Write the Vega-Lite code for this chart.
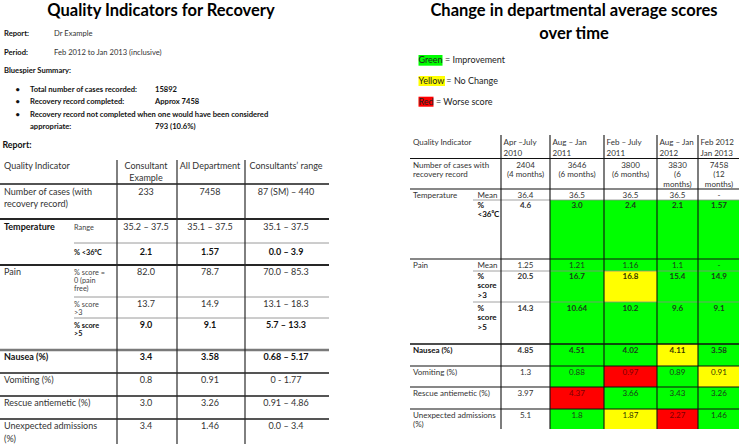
{
  "$schema": "https://vega.github.io/schema/vega-lite/v6.json",
  "width": 740,
  "height": 444,
  "autosize": {"type": "none"},
  "padding": 0,
  "background": "#ffffff",
  "config": {"view": {"stroke": null}, "font": "Lato", "text": {"lineBreak": "\n", "font": "Lato", "color": "#222222"}},
  "datasets": {
    "left": [
      {"part": "title", "em": true, "c": 9, "r": 0, "t": "Quality Indicators for Recovery"},
      {"part": "info", "em": true, "c": 1, "r": 1, "t": "Report:"},
      {"part": "info", "em": false, "c": 4, "r": 1, "t": "Dr Example"},
      {"part": "info", "em": true, "c": 1, "r": 2, "t": "Period:"},
      {"part": "info", "em": false, "c": 4, "r": 2, "t": "Feb 2012 to Jan 2013 (inclusive)"},
      {"part": "info", "em": true, "c": 1, "r": 3, "t": "Bluespier Summary:"},
      {"part": "info", "em": true, "c": 2, "r": 4, "t": "•"},
      {"part": "info", "em": true, "c": 3, "r": 4, "t": "Total number of cases recorded:"},
      {"part": "info", "em": true, "c": 8, "r": 4, "t": "15892"},
      {"part": "info", "em": true, "c": 2, "r": 5, "t": "•"},
      {"part": "info", "em": true, "c": 3, "r": 5, "t": "Recovery record completed:"},
      {"part": "info", "em": true, "c": 8, "r": 5, "t": "Approx 7458"},
      {"part": "info", "em": true, "c": 2, "r": 6, "t": "•"},
      {"part": "info", "em": true, "c": 3, "r": 6, "t": "Recovery record not completed when one would have been considered"},
      {"part": "info", "em": true, "c": 3, "r": 7, "t": "appropriate:"},
      {"part": "info", "em": true, "c": 8, "r": 7, "t": "793 (10.6%)"},
      {"part": "heading", "em": true, "c": 1, "r": 8, "t": "Report:"},
      {"part": "label", "em": false, "c": 1, "r": 10, "t": "Quality Indicator"},
      {"part": "value", "em": false, "c": 7, "r": 10, "t": "Consultant\nExample"},
      {"part": "value", "em": false, "c": 11, "r": 10, "t": "All Department"},
      {"part": "value", "em": false, "c": 13, "r": 10, "t": "Consultants’ range"},
      {"part": "label", "em": false, "c": 1, "r": 12, "t": "Number of cases (with\nrecovery record)"},
      {"part": "value", "em": false, "c": 7, "r": 12, "t": "233"},
      {"part": "value", "em": false, "c": 11, "r": 12, "t": "7458"},
      {"part": "value", "em": false, "c": 13, "r": 12, "t": "87 (SM) – 440"},
      {"part": "label", "em": true, "c": 1, "r": 14, "t": "Temperature"},
      {"part": "sub", "em": false, "c": 5, "r": 14, "t": "Range"},
      {"part": "value", "em": false, "c": 7, "r": 14, "t": "35.2 – 37.5"},
      {"part": "value", "em": false, "c": 11, "r": 14, "t": "35.1 – 37.5"},
      {"part": "value", "em": false, "c": 13, "r": 14, "t": "35.1 – 37.5"},
      {"part": "sub", "em": true, "c": 5, "r": 16, "t": "% <36⁰C"},
      {"part": "value", "em": true, "c": 7, "r": 16, "t": "2.1"},
      {"part": "value", "em": true, "c": 11, "r": 16, "t": "1.57"},
      {"part": "value", "em": true, "c": 13, "r": 16, "t": "0.0 – 3.9"},
      {"part": "label", "em": false, "c": 1, "r": 18, "t": "Pain"},
      {"part": "sub", "em": false, "c": 5, "r": 18, "t": "% score =\n0 (pain\nfree)"},
      {"part": "value", "em": false, "c": 7, "r": 18, "t": "82.0"},
      {"part": "value", "em": false, "c": 11, "r": 18, "t": "78.7"},
      {"part": "value", "em": false, "c": 13, "r": 18, "t": "70.0 – 85.3"},
      {"part": "sub", "em": false, "c": 5, "r": 20, "t": "% score\n>3"},
      {"part": "value", "em": false, "c": 7, "r": 20, "t": "13.7"},
      {"part": "value", "em": false, "c": 11, "r": 20, "t": "14.9"},
      {"part": "value", "em": false, "c": 13, "r": 20, "t": "13.1 – 18.3"},
      {"part": "sub", "em": true, "c": 5, "r": 22, "t": "% score\n>5"},
      {"part": "value", "em": true, "c": 7, "r": 22, "t": "9.0"},
      {"part": "value", "em": true, "c": 11, "r": 22, "t": "9.1"},
      {"part": "value", "em": true, "c": 13, "r": 22, "t": "5.7 – 13.3"},
      {"part": "label", "em": true, "c": 1, "r": 24, "t": "Nausea (%)"},
      {"part": "value", "em": true, "c": 7, "r": 24, "t": "3.4"},
      {"part": "value", "em": true, "c": 11, "r": 24, "t": "3.58"},
      {"part": "value", "em": true, "c": 13, "r": 24, "t": "0.68 – 5.17"},
      {"part": "label", "em": false, "c": 1, "r": 26, "t": "Vomiting (%)"},
      {"part": "value", "em": false, "c": 7, "r": 26, "t": "0.8"},
      {"part": "value", "em": false, "c": 11, "r": 26, "t": "0.91"},
      {"part": "value", "em": false, "c": 13, "r": 26, "t": "0 - 1.77"},
      {"part": "label", "em": false, "c": 1, "r": 28, "t": "Rescue antiemetic (%)"},
      {"part": "value", "em": false, "c": 7, "r": 28, "t": "3.0"},
      {"part": "value", "em": false, "c": 11, "r": 28, "t": "3.26"},
      {"part": "value", "em": false, "c": 13, "r": 28, "t": "0.91 – 4.86"},
      {"part": "label", "em": false, "c": 1, "r": 30, "t": "Unexpected admissions\n(%)"},
      {"part": "value", "em": false, "c": 7, "r": 30, "t": "3.4"},
      {"part": "value", "em": false, "c": 11, "r": 30, "t": "1.46"},
      {"part": "value", "em": false, "c": 13, "r": 30, "t": "0.0 – 3.4"}
    ],
    "leftRules": [
      {"k": "head", "c": 0, "c2": 14, "r": 11, "r2": 11},
      {"k": "major", "c": 0, "c2": 14, "r": 13, "r2": 13},
      {"k": "minor", "c": 5, "c2": 14, "r": 15, "r2": 15},
      {"k": "major", "c": 0, "c2": 14, "r": 17, "r2": 17},
      {"k": "minor", "c": 5, "c2": 14, "r": 19, "r2": 19},
      {"k": "minor", "c": 5, "c2": 14, "r": 21, "r2": 21},
      {"k": "section", "c": 0, "c2": 14, "r": 23, "r2": 23},
      {"k": "row", "c": 0, "c2": 14, "r": 25, "r2": 25},
      {"k": "row", "c": 0, "c2": 14, "r": 27, "r2": 27},
      {"k": "row", "c": 0, "c2": 14, "r": 29, "r2": 29},
      {"k": "col", "c": 6, "c2": 6, "r": 9, "r2": 31},
      {"k": "col", "c": 10, "c2": 10, "r": 9, "r2": 31},
      {"k": "col", "c": 12, "c2": 12, "r": 9, "r2": 31}
    ],
    "right": [
      {"part": "title", "em": true, "c": 11, "r": 0, "t": "Change in departmental average scores\nover time"},
      {"part": "label", "em": false, "c": 1, "r": 11, "t": "Quality Indicator"},
      {"part": "head", "em": false, "c": 8, "r": 11, "t": "Apr –July\n2010"},
      {"part": "head", "em": false, "c": 10, "r": 11, "t": "Aug – Jan\n2011"},
      {"part": "head", "em": false, "c": 12, "r": 11, "t": "Feb – July\n2011"},
      {"part": "head", "em": false, "c": 14, "r": 11, "t": "Aug – Jan\n2012"},
      {"part": "head", "em": false, "c": 16, "r": 11, "t": "Feb 2012\nJan 2013"},
      {"part": "label", "em": false, "c": 1, "r": 13, "t": "Number of cases with\nrecovery record"},
      {"part": "label", "em": false, "c": 1, "r": 15, "t": "Temperature"},
      {"part": "sub", "em": false, "c": 7, "r": 15, "t": "Mean"},
      {"part": "sub", "em": true, "c": 7, "r": 17, "t": "%\n<36⁰C"},
      {"part": "label", "em": false, "c": 1, "r": 19, "t": "Pain"},
      {"part": "sub", "em": false, "c": 7, "r": 19, "t": "Mean"},
      {"part": "sub", "em": true, "c": 7, "r": 21, "t": "%\nscore\n>3"},
      {"part": "sub", "em": true, "c": 7, "r": 23, "t": "%\nscore\n>5"},
      {"part": "label", "em": true, "c": 1, "r": 25, "t": "Nausea (%)"},
      {"part": "label", "em": false, "c": 1, "r": 27, "t": "Vomiting (%)"},
      {"part": "label", "em": false, "c": 1, "r": 29, "t": "Rescue antiemetic (%)"},
      {"part": "label", "em": false, "c": 1, "r": 31, "t": "Unexpected admissions\n(%)"}
    ],
    "key": [
      {"s": "Improvement", "t": "Green = Improvement", "c": 2, "r": 2, "c0": 2, "c1": 4, "r0": 1, "r1": 3},
      {"s": "No change", "t": "Yellow = No Change", "c": 2, "r": 5, "c0": 2, "c1": 5, "r0": 4, "r1": 6},
      {"s": "Worse", "t": "Red = Worse score", "c": 2, "r": 8, "c0": 2, "c1": 3, "r0": 7, "r1": 9}
    ],
    "cells": [
      {"ind": "Number of cases", "per": "Apr–July 2010", "v": "2404\n(4 months)", "s": "none", "em": false, "c": 9, "r": 13},
      {"ind": "Number of cases", "per": "Aug–Jan 2011", "v": "3646\n(6 months)", "s": "none", "em": false, "c": 11, "r": 13},
      {"ind": "Number of cases", "per": "Feb–July 2011", "v": "3800\n(6 months)", "s": "none", "em": false, "c": 13, "r": 13},
      {"ind": "Number of cases", "per": "Aug–Jan 2012", "v": "3830\n(6\nmonths)", "s": "none", "em": false, "c": 15, "r": 13},
      {"ind": "Number of cases", "per": "Feb 2012–Jan 2013", "v": "7458\n(12\nmonths)", "s": "none", "em": false, "c": 17, "r": 13},
      {"ind": "Temperature mean", "per": "Apr–July 2010", "v": "36.4", "s": "none", "em": false, "c": 9, "r": 15},
      {"ind": "Temperature mean", "per": "Aug–Jan 2011", "v": "36.5", "s": "none", "em": false, "c": 11, "r": 15},
      {"ind": "Temperature mean", "per": "Feb–July 2011", "v": "36.5", "s": "none", "em": false, "c": 13, "r": 15},
      {"ind": "Temperature mean", "per": "Aug–Jan 2012", "v": "36.5", "s": "none", "em": false, "c": 15, "r": 15},
      {"ind": "Temperature mean", "per": "Feb 2012–Jan 2013", "v": "-", "s": "none", "em": false, "c": 17, "r": 15},
      {"ind": "Temperature % <36", "per": "Apr–July 2010", "v": "4.6", "s": "none", "em": true, "c": 9, "r": 17},
      {"ind": "Temperature % <36", "per": "Aug–Jan 2011", "v": "3.0", "s": "Improvement", "em": true, "c": 11, "r": 17, "c0": 10, "c1": 12, "r0": 16, "r1": 18},
      {"ind": "Temperature % <36", "per": "Feb–July 2011", "v": "2.4", "s": "Improvement", "em": true, "c": 13, "r": 17, "c0": 12, "c1": 14, "r0": 16, "r1": 18},
      {"ind": "Temperature % <36", "per": "Aug–Jan 2012", "v": "2.1", "s": "Improvement", "em": true, "c": 15, "r": 17, "c0": 14, "c1": 16, "r0": 16, "r1": 18},
      {"ind": "Temperature % <36", "per": "Feb 2012–Jan 2013", "v": "1.57", "s": "Improvement", "em": true, "c": 17, "r": 17, "c0": 16, "c1": 18, "r0": 16, "r1": 18},
      {"ind": "Pain mean", "per": "Apr–July 2010", "v": "1.25", "s": "none", "em": false, "c": 9, "r": 19},
      {"ind": "Pain mean", "per": "Aug–Jan 2011", "v": "1.21", "s": "Improvement", "em": false, "c": 11, "r": 19, "c0": 10, "c1": 12, "r0": 18, "r1": 20},
      {"ind": "Pain mean", "per": "Feb–July 2011", "v": "1.16", "s": "Improvement", "em": false, "c": 13, "r": 19, "c0": 12, "c1": 14, "r0": 18, "r1": 20},
      {"ind": "Pain mean", "per": "Aug–Jan 2012", "v": "1.1", "s": "Improvement", "em": false, "c": 15, "r": 19, "c0": 14, "c1": 16, "r0": 18, "r1": 20},
      {"ind": "Pain mean", "per": "Feb 2012–Jan 2013", "v": "-", "s": "Improvement", "em": false, "c": 17, "r": 19, "c0": 16, "c1": 18, "r0": 18, "r1": 20},
      {"ind": "Pain % score >3", "per": "Apr–July 2010", "v": "20.5", "s": "none", "em": true, "c": 9, "r": 21},
      {"ind": "Pain % score >3", "per": "Aug–Jan 2011", "v": "16.7", "s": "Improvement", "em": true, "c": 11, "r": 21, "c0": 10, "c1": 12, "r0": 20, "r1": 22},
      {"ind": "Pain % score >3", "per": "Feb–July 2011", "v": "16.8", "s": "No change", "em": true, "c": 13, "r": 21, "c0": 12, "c1": 14, "r0": 20, "r1": 22},
      {"ind": "Pain % score >3", "per": "Aug–Jan 2012", "v": "15.4", "s": "Improvement", "em": true, "c": 15, "r": 21, "c0": 14, "c1": 16, "r0": 20, "r1": 22},
      {"ind": "Pain % score >3", "per": "Feb 2012–Jan 2013", "v": "14.9", "s": "Improvement", "em": true, "c": 17, "r": 21, "c0": 16, "c1": 18, "r0": 20, "r1": 22},
      {"ind": "Pain % score >5", "per": "Apr–July 2010", "v": "14.3", "s": "none", "em": true, "c": 9, "r": 23},
      {"ind": "Pain % score >5", "per": "Aug–Jan 2011", "v": "10.64", "s": "Improvement", "em": true, "c": 11, "r": 23, "c0": 10, "c1": 12, "r0": 22, "r1": 24},
      {"ind": "Pain % score >5", "per": "Feb–July 2011", "v": "10.2", "s": "Improvement", "em": true, "c": 13, "r": 23, "c0": 12, "c1": 14, "r0": 22, "r1": 24},
      {"ind": "Pain % score >5", "per": "Aug–Jan 2012", "v": "9.6", "s": "Improvement", "em": true, "c": 15, "r": 23, "c0": 14, "c1": 16, "r0": 22, "r1": 24},
      {"ind": "Pain % score >5", "per": "Feb 2012–Jan 2013", "v": "9.1", "s": "Improvement", "em": true, "c": 17, "r": 23, "c0": 16, "c1": 18, "r0": 22, "r1": 24},
      {"ind": "Nausea (%)", "per": "Apr–July 2010", "v": "4.85", "s": "none", "em": true, "c": 9, "r": 25},
      {"ind": "Nausea (%)", "per": "Aug–Jan 2011", "v": "4.51", "s": "Improvement", "em": true, "c": 11, "r": 25, "c0": 10, "c1": 12, "r0": 24, "r1": 26},
      {"ind": "Nausea (%)", "per": "Feb–July 2011", "v": "4.02", "s": "Improvement", "em": true, "c": 13, "r": 25, "c0": 12, "c1": 14, "r0": 24, "r1": 26},
      {"ind": "Nausea (%)", "per": "Aug–Jan 2012", "v": "4.11", "s": "No change", "em": true, "c": 15, "r": 25, "c0": 14, "c1": 16, "r0": 24, "r1": 26},
      {"ind": "Nausea (%)", "per": "Feb 2012–Jan 2013", "v": "3.58", "s": "Improvement", "em": true, "c": 17, "r": 25, "c0": 16, "c1": 18, "r0": 24, "r1": 26},
      {"ind": "Vomiting (%)", "per": "Apr–July 2010", "v": "1.3", "s": "none", "em": false, "c": 9, "r": 27},
      {"ind": "Vomiting (%)", "per": "Aug–Jan 2011", "v": "0.88", "s": "Improvement", "em": false, "c": 11, "r": 27, "c0": 10, "c1": 12, "r0": 26, "r1": 28},
      {"ind": "Vomiting (%)", "per": "Feb–July 2011", "v": "0.97", "s": "Worse", "em": false, "c": 13, "r": 27, "c0": 12, "c1": 14, "r0": 26, "r1": 28},
      {"ind": "Vomiting (%)", "per": "Aug–Jan 2012", "v": "0.89", "s": "Improvement", "em": false, "c": 15, "r": 27, "c0": 14, "c1": 16, "r0": 26, "r1": 28},
      {"ind": "Vomiting (%)", "per": "Feb 2012–Jan 2013", "v": "0.91", "s": "No change", "em": false, "c": 17, "r": 27, "c0": 16, "c1": 18, "r0": 26, "r1": 28},
      {"ind": "Rescue antiemetic (%)", "per": "Apr–July 2010", "v": "3.97", "s": "none", "em": false, "c": 9, "r": 29},
      {"ind": "Rescue antiemetic (%)", "per": "Aug–Jan 2011", "v": "4.37", "s": "Worse", "em": false, "c": 11, "r": 29, "c0": 10, "c1": 12, "r0": 28, "r1": 30},
      {"ind": "Rescue antiemetic (%)", "per": "Feb–July 2011", "v": "3.66", "s": "Improvement", "em": false, "c": 13, "r": 29, "c0": 12, "c1": 14, "r0": 28, "r1": 30},
      {"ind": "Rescue antiemetic (%)", "per": "Aug–Jan 2012", "v": "3.43", "s": "Improvement", "em": false, "c": 15, "r": 29, "c0": 14, "c1": 16, "r0": 28, "r1": 30},
      {"ind": "Rescue antiemetic (%)", "per": "Feb 2012–Jan 2013", "v": "3.26", "s": "Improvement", "em": false, "c": 17, "r": 29, "c0": 16, "c1": 18, "r0": 28, "r1": 30},
      {"ind": "Unexpected admissions (%)", "per": "Apr–July 2010", "v": "5.1", "s": "none", "em": false, "c": 9, "r": 31},
      {"ind": "Unexpected admissions (%)", "per": "Aug–Jan 2011", "v": "1.8", "s": "Improvement", "em": false, "c": 11, "r": 31, "c0": 10, "c1": 12, "r0": 30, "r1": 32},
      {"ind": "Unexpected admissions (%)", "per": "Feb–July 2011", "v": "1.87", "s": "No change", "em": false, "c": 13, "r": 31, "c0": 12, "c1": 14, "r0": 30, "r1": 32},
      {"ind": "Unexpected admissions (%)", "per": "Aug–Jan 2012", "v": "2.27", "s": "Worse", "em": false, "c": 15, "r": 31, "c0": 14, "c1": 16, "r0": 30, "r1": 32},
      {"ind": "Unexpected admissions (%)", "per": "Feb 2012–Jan 2013", "v": "1.46", "s": "Improvement", "em": false, "c": 17, "r": 31, "c0": 16, "c1": 18, "r0": 30, "r1": 32}
    ],
    "rightRules": [
      {"k": "major", "c": 0, "c2": 18, "r": 12, "r2": 12},
      {"k": "major", "c": 0, "c2": 18, "r": 14, "r2": 14},
      {"k": "minor", "c": 6, "c2": 18, "r": 16, "r2": 16},
      {"k": "major", "c": 0, "c2": 18, "r": 18, "r2": 18},
      {"k": "minor", "c": 6, "c2": 18, "r": 20, "r2": 20},
      {"k": "minor", "c": 6, "c2": 18, "r": 22, "r2": 22},
      {"k": "section", "c": 0, "c2": 18, "r": 24, "r2": 24},
      {"k": "major", "c": 0, "c2": 18, "r": 26, "r2": 26},
      {"k": "major", "c": 0, "c2": 18, "r": 28, "r2": 28},
      {"k": "major", "c": 0, "c2": 18, "r": 30, "r2": 30},
      {"k": "col", "c": 8, "c2": 8, "r": 10, "r2": 32},
      {"k": "col", "c": 10, "c2": 10, "r": 10, "r2": 32},
      {"k": "col", "c": 12, "c2": 12, "r": 10, "r2": 32},
      {"k": "col", "c": 14, "c2": 14, "r": 10, "r2": 32},
      {"k": "col", "c": 16, "c2": 16, "r": 10, "r2": 32}
    ]
  },
  "resolve": {"scale": {"x": "independent", "y": "independent"}},
  "layer": [
    {
      "encoding": {
        "x": {"field": "c", "type": "quantitative", "axis": null, "scale": {"type": "linear", "zero": false, "nice": false, "domain": [0,1,2,3,4,5,6,7,8,9,10,11,12,13,14], "range": [0,4,15.5,30,54,74,117,146,155,161,177,210,245,286,329]}},
        "y": {"field": "r", "type": "quantitative", "axis": null, "scale": {"type": "linear", "zero": false, "nice": false, "domain": [0,1,2,3,4,5,6,7,8,9,10,11,12,13,14,15,16,17,18,19,20,21,22,23,24,25,26,27,28,29,30,31], "range": [10,33.3,52.3,70.7,89,101.7,114.3,126.7,144.3,160,166,184,191.5,219,226.7,243,251.7,265,271.7,297,304,318,325,350,356.7,373,380,396,402.7,419,426,444]}}
      },
      "layer": [
        {"data": {"name": "leftRules"}, "transform": [{"filter": "datum.k == 'head'"}], "mark": {"type": "rule", "color": "#1a1a1a", "strokeWidth": 1.3}, "encoding": {"x2": {"field": "c2"}, "y2": {"field": "r2"}}},
        {"data": {"name": "leftRules"}, "transform": [{"filter": "datum.k == 'major'"}], "mark": {"type": "rule", "color": "#262626", "strokeWidth": 2}, "encoding": {"x2": {"field": "c2"}, "y2": {"field": "r2"}}},
        {"data": {"name": "leftRules"}, "transform": [{"filter": "datum.k == 'minor'"}], "mark": {"type": "rule", "color": "#9a9a9a", "strokeWidth": 1}, "encoding": {"x2": {"field": "c2"}, "y2": {"field": "r2"}}},
        {"data": {"name": "leftRules"}, "transform": [{"filter": "datum.k == 'section'"}], "mark": {"type": "rule", "color": "#7a7a7a", "strokeWidth": 2.6}, "encoding": {"x2": {"field": "c2"}, "y2": {"field": "r2"}}},
        {"data": {"name": "leftRules"}, "transform": [{"filter": "datum.k == 'row'"}], "mark": {"type": "rule", "color": "#555555", "strokeWidth": 1.8}, "encoding": {"x2": {"field": "c2"}, "y2": {"field": "r2"}}},
        {"data": {"name": "leftRules"}, "transform": [{"filter": "datum.k == 'col'"}], "mark": {"type": "rule", "color": "#2a2a2a", "strokeWidth": 1.2}, "encoding": {"x2": {"field": "c2"}, "y2": {"field": "r2"}}},
        {"data": {"name": "left"}, "transform": [{"filter": "datum.part == 'title'"}], "mark": {"type": "text", "align": "center", "baseline": "top", "fontSize": 16.5, "fontWeight": "bold", "dy": -7.1, "color": "#000000"}, "encoding": {"text": {"field": "t", "type": "nominal"}}},
        {"data": {"name": "left"}, "transform": [{"filter": "datum.part == 'info' && !datum.em"}], "mark": {"type": "text", "align": "left", "baseline": "top", "fontSize": 7.6, "dy": -3.3, "color": "#333333"}, "encoding": {"text": {"field": "t", "type": "nominal"}}},
        {"data": {"name": "left"}, "transform": [{"filter": "datum.part == 'info' && datum.em"}], "mark": {"type": "text", "align": "left", "baseline": "top", "fontSize": 7.6, "fontWeight": "bold", "dy": -3.3, "color": "#111111"}, "encoding": {"text": {"field": "t", "type": "nominal"}}},
        {"data": {"name": "left"}, "transform": [{"filter": "datum.part == 'heading'"}], "mark": {"type": "text", "align": "left", "baseline": "top", "fontSize": 8.8, "fontWeight": "bold", "dx": -1.5, "dy": -3.8, "color": "#111111"}, "encoding": {"text": {"field": "t", "type": "nominal"}}},
        {"data": {"name": "left"}, "transform": [{"filter": "datum.part == 'label' && !datum.em"}], "mark": {"type": "text", "align": "left", "baseline": "top", "fontSize": 9, "lineHeight": 12.8, "dy": -3.9, "color": "#333333"}, "encoding": {"text": {"field": "t", "type": "nominal"}}},
        {"data": {"name": "left"}, "transform": [{"filter": "datum.part == 'label' && datum.em"}], "mark": {"type": "text", "align": "left", "baseline": "top", "fontSize": 9, "fontWeight": "bold", "lineHeight": 12.8, "dy": -3.9, "color": "#111111"}, "encoding": {"text": {"field": "t", "type": "nominal"}}},
        {"data": {"name": "left"}, "transform": [{"filter": "datum.part == 'sub' && !datum.em"}], "mark": {"type": "text", "align": "left", "baseline": "top", "fontSize": 7.3, "lineHeight": 8.3, "dy": -3.1, "color": "#444444"}, "encoding": {"text": {"field": "t", "type": "nominal"}}},
        {"data": {"name": "left"}, "transform": [{"filter": "datum.part == 'sub' && datum.em"}], "mark": {"type": "text", "align": "left", "baseline": "top", "fontSize": 7.3, "fontWeight": "bold", "lineHeight": 8.3, "dy": -3.1, "color": "#111111"}, "encoding": {"text": {"field": "t", "type": "nominal"}}},
        {"data": {"name": "left"}, "transform": [{"filter": "datum.part == 'value' && !datum.em"}], "mark": {"type": "text", "align": "center", "baseline": "top", "fontSize": 9, "lineHeight": 12.3, "dy": -3.9, "color": "#333333"}, "encoding": {"text": {"field": "t", "type": "nominal"}}},
        {"data": {"name": "left"}, "transform": [{"filter": "datum.part == 'value' && datum.em"}], "mark": {"type": "text", "align": "center", "baseline": "top", "fontSize": 9, "fontWeight": "bold", "lineHeight": 12.3, "dy": -3.9, "color": "#111111"}, "encoding": {"text": {"field": "t", "type": "nominal"}}}
      ]
    },
    {
      "encoding": {
        "x": {"field": "c", "type": "quantitative", "axis": null, "scale": {"type": "linear", "zero": false, "nice": false, "domain": [0,1,2,3,4,5,6,7,8,9,10,11,12,13,14,15,16,17,18], "range": [410,413,418.5,433.5,442.5,445,473,477.5,501,525.5,550,577,604,630.5,657,677.5,698,719,739]}},
        "y": {"field": "r", "type": "quantitative", "axis": null, "scale": {"type": "linear", "zero": false, "nice": false, "domain": [0,1,2,3,4,5,6,7,8,9,10,11,12,13,14,15,16,17,18,19,20,21,22,23,24,25,26,27,28,29,30,31,32], "range": [10,55,60.3,65.7,76,81,86,96.7,101.7,106.7,135,142,158.5,165,189,195,200,205,259,265,271,276,302,308.3,344,350.7,366,372.3,387,393.3,409,415,429]}}
      },
      "layer": [
        {"data": {"name": "cells"}, "transform": [{"filter": "datum.s != 'none'"}], "mark": {"type": "rect"},
         "encoding": {
           "x": {"field": "c0", "type": "quantitative", "axis": null, "scale": {"type": "linear", "zero": false, "nice": false, "domain": [0,1,2,3,4,5,6,7,8,9,10,11,12,13,14,15,16,17,18], "range": [410,413,418.5,433.5,442.5,445,473,477.5,501,525.5,550,577,604,630.5,657,677.5,698,719,739]}},
           "x2": {"field": "c1"},
           "y": {"field": "r0", "type": "quantitative", "axis": null, "scale": {"type": "linear", "zero": false, "nice": false, "domain": [0,1,2,3,4,5,6,7,8,9,10,11,12,13,14,15,16,17,18,19,20,21,22,23,24,25,26,27,28,29,30,31,32], "range": [10,55,60.3,65.7,76,81,86,96.7,101.7,106.7,135,142,158.5,165,189,195,200,205,259,265,271,276,302,308.3,344,350.7,366,372.3,387,393.3,409,415,429]}},
           "y2": {"field": "r1"},
           "fill": {"field": "s", "type": "nominal", "legend": null, "scale": {"domain": ["Improvement", "No change", "Worse"], "range": ["#00ff00", "#ffff00", "#ff0000"]}}
         }},
        {"data": {"name": "key"}, "mark": {"type": "rect"},
         "encoding": {
           "x": {"field": "c0", "type": "quantitative", "axis": null, "scale": {"type": "linear", "zero": false, "nice": false, "domain": [0,1,2,3,4,5,6,7,8,9,10,11,12,13,14,15,16,17,18], "range": [410,413,418.5,433.5,442.5,445,473,477.5,501,525.5,550,577,604,630.5,657,677.5,698,719,739]}},
           "x2": {"field": "c1"},
           "y": {"field": "r0", "type": "quantitative", "axis": null, "scale": {"type": "linear", "zero": false, "nice": false, "domain": [0,1,2,3,4,5,6,7,8,9,10,11,12,13,14,15,16,17,18,19,20,21,22,23,24,25,26,27,28,29,30,31,32], "range": [10,55,60.3,65.7,76,81,86,96.7,101.7,106.7,135,142,158.5,165,189,195,200,205,259,265,271,276,302,308.3,344,350.7,366,372.3,387,393.3,409,415,429]}},
           "y2": {"field": "r1"},
           "fill": {"field": "s", "type": "nominal", "legend": null, "scale": {"domain": ["Improvement", "No change", "Worse"], "range": ["#00ff00", "#ffff00", "#ff0000"]}}
         }},
        {"data": {"name": "rightRules"}, "transform": [{"filter": "datum.k == 'major'"}], "mark": {"type": "rule", "color": "#111111", "strokeWidth": 1.1}, "encoding": {"x2": {"field": "c2"}, "y2": {"field": "r2"}}},
        {"data": {"name": "rightRules"}, "transform": [{"filter": "datum.k == 'minor'"}], "mark": {"type": "rule", "color": "#8a8a8a", "strokeWidth": 0.8}, "encoding": {"x2": {"field": "c2"}, "y2": {"field": "r2"}}},
        {"data": {"name": "rightRules"}, "transform": [{"filter": "datum.k == 'section'"}], "mark": {"type": "rule", "color": "#111111", "strokeWidth": 1.7}, "encoding": {"x2": {"field": "c2"}, "y2": {"field": "r2"}}},
        {"data": {"name": "rightRules"}, "transform": [{"filter": "datum.k == 'col'"}], "mark": {"type": "rule", "color": "#111111", "strokeWidth": 1.1}, "encoding": {"x2": {"field": "c2"}, "y2": {"field": "r2"}}},
        {"data": {"name": "right"}, "transform": [{"filter": "datum.part == 'title'"}], "mark": {"type": "text", "align": "center", "baseline": "top", "fontSize": 16.5, "fontWeight": "bold", "lineHeight": 23, "dx": -3, "dy": -7.1, "color": "#000000"}, "encoding": {"text": {"field": "t", "type": "nominal"}}},
        {"data": {"name": "key"}, "mark": {"type": "text", "align": "left", "baseline": "top", "fontSize": 9, "dy": -3.9, "color": "#222222"}, "encoding": {"text": {"field": "t", "type": "nominal"}}},
        {"data": {"name": "right"}, "transform": [{"filter": "datum.part == 'label' && !datum.em"}], "mark": {"type": "text", "align": "left", "baseline": "top", "fontSize": 8, "lineHeight": 9.5, "dy": -3.4, "color": "#333333"}, "encoding": {"text": {"field": "t", "type": "nominal"}}},
        {"data": {"name": "right"}, "transform": [{"filter": "datum.part == 'label' && datum.em"}], "mark": {"type": "text", "align": "left", "baseline": "top", "fontSize": 8, "fontWeight": "bold", "lineHeight": 9.5, "dy": -3.4, "color": "#111111"}, "encoding": {"text": {"field": "t", "type": "nominal"}}},
        {"data": {"name": "right"}, "transform": [{"filter": "datum.part == 'head'"}], "mark": {"type": "text", "align": "left", "baseline": "top", "fontSize": 8, "lineHeight": 11, "dx": 2.5, "dy": -3.4, "color": "#333333"}, "encoding": {"text": {"field": "t", "type": "nominal"}}},
        {"data": {"name": "right"}, "transform": [{"filter": "datum.part == 'sub' && !datum.em"}], "mark": {"type": "text", "align": "left", "baseline": "top", "fontSize": 8, "lineHeight": 9.5, "dy": -3.4, "color": "#333333"}, "encoding": {"text": {"field": "t", "type": "nominal"}}},
        {"data": {"name": "right"}, "transform": [{"filter": "datum.part == 'sub' && datum.em"}], "mark": {"type": "text", "align": "left", "baseline": "top", "fontSize": 8, "fontWeight": "bold", "lineHeight": 9.5, "dy": -3.4, "color": "#111111"}, "encoding": {"text": {"field": "t", "type": "nominal"}}},
        {"data": {"name": "cells"}, "transform": [{"filter": "!datum.em"}], "mark": {"type": "text", "align": "center", "baseline": "top", "fontSize": 8, "lineHeight": 9.5, "dy": -3.4},
         "encoding": {"text": {"field": "v", "type": "nominal"}, "color": {"field": "s", "type": "nominal", "legend": null, "scale": {"domain": ["none", "Improvement", "No change", "Worse"], "range": ["#333333", "#1c3a1c", "#333300", "#7a0000"]}}}},
        {"data": {"name": "cells"}, "transform": [{"filter": "datum.em"}], "mark": {"type": "text", "align": "center", "baseline": "top", "fontSize": 8, "fontWeight": "bold", "lineHeight": 9.5, "dy": -3.4},
         "encoding": {"text": {"field": "v", "type": "nominal"}, "color": {"field": "s", "type": "nominal", "legend": null, "scale": {"domain": ["none", "Improvement", "No change", "Worse"], "range": ["#111111", "#1c3a1c", "#333300", "#7a0000"]}}}}
      ]
    }
  ]
}
